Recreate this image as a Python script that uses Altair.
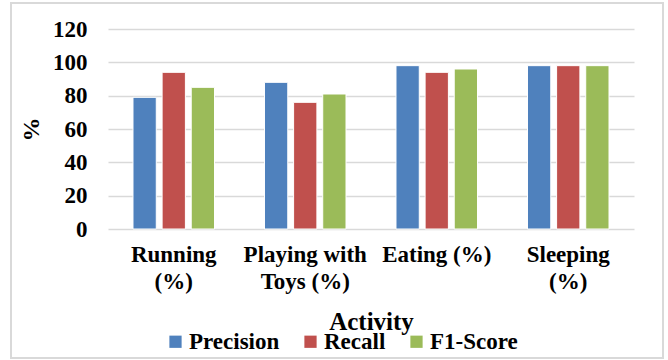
import altair as alt
import pandas as pd

# Activity classification scores per class
activities = ["Running (%)", "Playing with Toys (%)", "Eating (%)", "Sleeping (%)"]
metrics = ["Precision", "Recall", "F1-Score"]
precision = [79, 88, 98, 98]
recall = [94, 76, 94, 98]
f1_score = [85, 81, 96, 98]
y_ticks = [0, 20, 40, 60, 80, 100, 120]

rows = []
for i, act in enumerate(activities):
    for m, vals in zip(metrics, [precision, recall, f1_score]):
        rows.append({"Activity": act, "Metric": m, "Value": vals[i]})
df = pd.DataFrame(rows)

FONT = "'Times New Roman', 'Liberation Serif', serif"
GRID = "#d9d9d9"

# split category names over two lines, as in the axis labels
label_expr = (
    "datum.label == 'Eating (%)' ? datum.label : "
    "split(replace(replace(datum.label, 'with ', 'with|'), 'ing (%)', 'ing|(%)'), '|')"
)

bars = alt.Chart(df).mark_bar(stroke="white", strokeWidth=1).encode(
    x=alt.X(
        "Activity:N",
        sort=activities,
        scale=alt.Scale(paddingInner=0.38, paddingOuter=0.19),
        axis=alt.Axis(
            title="Activity",
            labelAngle=0,
            labelExpr=label_expr,
            labelFont=FONT,
            labelFontSize=23,
            labelFontWeight="bold",
            labelColor="black",
            labelPadding=14,
            labelLineHeight=27,
            labelLimit=300,
            ticks=False,
            domain=False,
            titleFont=FONT,
            titleFontSize=25,
            titleFontWeight="bold",
            titleColor="black",
            titleBaseline="alphabetic",
            titleY=100,
        ),
    ),
    xOffset=alt.XOffset(
        "Metric:N",
        sort=metrics,
        scale=alt.Scale(paddingInner=0.2, paddingOuter=0),
    ),
    y=alt.Y(
        "Value:Q",
        scale=alt.Scale(domain=[0, 120]),
        axis=alt.Axis(
            title="%",
            values=y_ticks,
            labelFont=FONT,
            labelFontSize=23,
            labelFontWeight="bold",
            labelColor="black",
            labelPadding=21,
            ticks=False,
            domain=False,
            grid=True,
            gridColor=GRID,
            gridWidth=1.5,
            titleFont=FONT,
            titleFontSize=24,
            titleFontWeight="bold",
            titleColor="black",
            titlePadding=9,
        ),
    ),
    color=alt.Color(
        "Metric:N",
        sort=metrics,
        scale=alt.Scale(domain=metrics, range=["#4F81BD", "#C0504D", "#9BBB59"]),
        legend=alt.Legend(
            title=None,
            orient="none",
            direction="horizontal",
            legendX=56,
            legendY=301,
            symbolType="square",
            symbolSize=150,
            symbolStrokeWidth=0,
            labelFont=FONT,
            labelFontSize=23,
            labelFontWeight="bold",
            labelColor="black",
            labelOffset=2,
            columnPadding=19,
            labelLimit=300,
        ),
    ),
)

# light gray frame around the whole chart
frame = alt.Chart(pd.DataFrame({"f": [0]})).mark_rect(
    filled=False, stroke=GRID, strokeWidth=2
).encode(
    x=alt.value(-97), x2=alt.value(555), y=alt.value(-26), y2=alt.value(329)
)

chart = alt.layer(frame, bars).properties(
    width=526,
    height=200,
    autosize=alt.AutoSizeParams(type="none"),
    padding={"left": 108, "top": 29, "right": 34, "bottom": 131},
    background="white",
).configure_view(stroke=None)

chart.save("out.html", embed_options={"renderer": "svg", "actions": False})
